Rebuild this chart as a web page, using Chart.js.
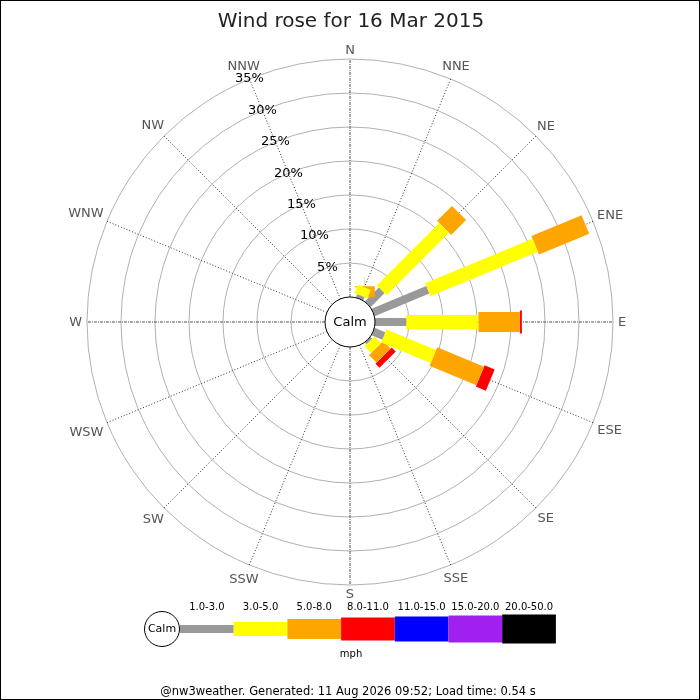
<!DOCTYPE html>
<html>
<head>
<meta charset="utf-8">
<title>Wind rose</title>
<script src="https://cdn.jsdelivr.net/npm/chart.js@4.4.1/dist/chart.umd.min.js"></script>
<style>
  body { margin: 0; background: #fff; }
  canvas { display: block; }
</style>
</head>
<body>
<canvas id="roseChart" width="700" height="700"></canvas>
<script>

const directions = ['N','NNE','NE','ENE','E','ESE','SE','SSE','S','SSW','SW','WSW','W','WNW','NW','NNW'];
const speedBins = ['1.0-3.0','3.0-5.0','5.0-8.0','8.0-11.0','11.0-15.0','15.0-20.0','20.0-50.0'];
const binColors = ['#999999','#ffff00','#ffa500','#ff0000','#0000ff','#a020f0','#000000'];
const pctTicks = [5,10,15,20,25,30,35];

// % of the day in each direction, one list per speed band (mph)
//                    N   NNE   NE    ENE   E     ESE   SE    SSE S  SSW SW WSW W  WNW NW NNW
const speed1to3   = [0,  0.5,  2.9,  8.7,  4.6,  1.7,  0.35, 0,  0, 0,  0, 0,  0, 0,  0, 0];
const speed3to5   = [0,  1.35, 13.0, 17.1, 10.6, 7.9,  1.4,  0,  0, 0,  0, 0,  0, 0,  0, 0];
const speed5to8   = [0,  0.15, 3.1,  8.0,  6.1,  7.45, 1.55, 0,  0, 0,  0, 0,  0, 0,  0, 0];
const speed8to11  = [0,  0,    0,    0,    0.3,  1.6,  0.85, 0,  0, 0,  0, 0,  0, 0,  0, 0];
const speed11to15 = [0,  0,    0,    0,    0,    0,    0,    0,  0, 0,  0, 0,  0, 0,  0, 0];
const speed15to20 = [0,  0,    0,    0,    0,    0,    0,    0,  0, 0,  0, 0,  0, 0,  0, 0];
const speed20to50 = [0,  0,    0,    0,    0,    0,    0,    0,  0, 0,  0, 0,  0, 0,  0, 0];

const series = [speed1to3, speed3to5, speed5to8, speed8to11, speed11to15, speed15to20, speed20to50];

// layout
const PX = 6.8;              // pixels per percent
const CX = 350, CY = 322;    // centre of the rose
const CALM = 25 / PX;        // calm circle radius, in % units
const barWidths = [8, 14, 20, 23, 25, 27, 29];
const FONT = '"DejaVu Sans", sans-serif';

function polar(r, i) {
  var a = i * Math.PI / 8;
  return { x: r * Math.sin(a), y: r * Math.cos(a) };
}

var datasets = [];
for (var d = 0; d < directions.length; d++) {
  var cum = CALM;
  for (var b = 0; b < series.length; b++) {
    var v = series[b][d];
    if (!v) continue;
    datasets.push({
      label: directions[d] + ' ' + speedBins[b],
      data: [polar(cum, d), polar(cum + v, d)],
      showLine: true,
      borderColor: binColors[b],
      borderWidth: barWidths[b],
      borderCapStyle: 'butt',
      pointRadius: 0,
      fill: false
    });
    cum += v;
  }
}

const rosePlugin = {
  id: 'rose',
  beforeDatasetsDraw(chart) {
    const ctx = chart.ctx;
    const xs = chart.scales.x, ys = chart.scales.y;
    const cx = xs.getPixelForValue(0), cy = ys.getPixelForValue(0);
    const rpx = v => xs.getPixelForValue(v) - cx;
    const outer = rpx(CALM + pctTicks[pctTicks.length - 1]);
    ctx.save();
    ctx.strokeStyle = '#b0b0b0';
    ctx.lineWidth = 1;
    for (const t of pctTicks) {
      ctx.beginPath();
      ctx.arc(cx, cy, rpx(CALM + t), 0, Math.PI * 2);
      ctx.stroke();
    }
    for (let i = 0; i < directions.length; i++) {
      const a = i * Math.PI / 8;
      ctx.beginPath();
      if (i % 4 == 0) { ctx.setLineDash([3, 1, 1, 1]); ctx.strokeStyle = '#555'; }
      else { ctx.setLineDash([1, 2]); ctx.strokeStyle = '#333'; }
      ctx.moveTo(cx + rpx(CALM) * Math.sin(a), cy - rpx(CALM) * Math.cos(a));
      ctx.lineTo(cx + outer * Math.sin(a), cy - outer * Math.cos(a));
      ctx.stroke();
    }
    ctx.setLineDash([]);
    // direction names
    ctx.font = '13px ' + FONT;
    ctx.fillStyle = '#555';
    ctx.textAlign = 'center';
    ctx.textBaseline = 'middle';
    for (let i = 0; i < directions.length; i++) {
      const a = i * Math.PI / 8;
      const w = ctx.measureText(directions[i]).width;
      const r = outer + 5 + Math.abs(Math.sin(a)) * w / 2 + Math.abs(Math.cos(a)) * 4;
      ctx.fillText(directions[i], cx + r * Math.sin(a), cy - r * Math.cos(a) + 1);
    }
    ctx.restore();
  },
  afterDatasetsDraw(chart) {
    const ctx = chart.ctx;
    const xs = chart.scales.x, ys = chart.scales.y;
    const cx = xs.getPixelForValue(0), cy = ys.getPixelForValue(0);
    const rpx = v => xs.getPixelForValue(v) - cx;
    ctx.save();
    // calm circle
    ctx.beginPath();
    ctx.arc(cx, cy, rpx(CALM), 0, Math.PI * 2);
    ctx.fillStyle = '#fff';
    ctx.fill();
    ctx.strokeStyle = '#000';
    ctx.lineWidth = 1;
    ctx.stroke();
    ctx.fillStyle = '#000';
    ctx.textAlign = 'center';
    ctx.textBaseline = 'middle';
    ctx.font = '13px ' + FONT;
    ctx.fillText('Calm', cx, cy + 1);
    // % labels on the NNW spoke
    const a = 15 * Math.PI / 8;
    for (const t of pctTicks) {
      const r = rpx(CALM + t);
      ctx.fillText(t + '%', cx + r * Math.sin(a), cy - r * Math.cos(a));
    }
    // title
    ctx.font = '20px ' + FONT;
    ctx.fillStyle = '#222';
    ctx.fillText('Wind rose for 16 Mar 2015', 351, 22);
    // legend
    const ly = 629, lx = 180, sw = 53.7;
    ctx.beginPath();
    ctx.arc(162, ly, 17.5, 0, Math.PI * 2);
    ctx.fillStyle = '#fff';
    ctx.fill();
    ctx.strokeStyle = '#000';
    ctx.stroke();
    ctx.fillStyle = '#000';
    ctx.font = '11px ' + FONT;
    ctx.fillText('Calm', 162, ly);
    ctx.font = '10px ' + FONT;
    for (let b = 0; b < speedBins.length; b++) {
      ctx.fillStyle = binColors[b];
      ctx.fillRect(lx + b * sw, ly - barWidths[b] / 2, sw, barWidths[b]);
      ctx.fillStyle = '#000';
      ctx.fillText(speedBins[b], lx + b * sw + sw / 2, 607);
    }
    ctx.fillText('mph', 351, 654);
    ctx.font = '11.5px ' + FONT;
    ctx.fillText('@nw3weather. Generated: 11 Aug 2026 09:52; Load time: 0.54 s', 348, 692);
    // frame
    ctx.strokeStyle = '#000';
    ctx.strokeRect(0.5, 0.5, 699, 699);
    ctx.restore();
  }
};

const roseChart = new Chart(document.getElementById('roseChart'), {
  type: 'scatter',
  data: { datasets: datasets },
  options: {
    responsive: false,
    animation: false,
    layout: { padding: 0 },
    scales: {
      x: { type: 'linear', display: false, min: -CX / PX, max: (700 - CX) / PX },
      y: { type: 'linear', display: false, min: -(700 - CY) / PX, max: CY / PX }
    },
    plugins: {
      legend: { display: false },
      tooltip: { enabled: false },
      title: { display: false }
    }
  },
  plugins: [rosePlugin]
});
</script>
</body>
</html>
